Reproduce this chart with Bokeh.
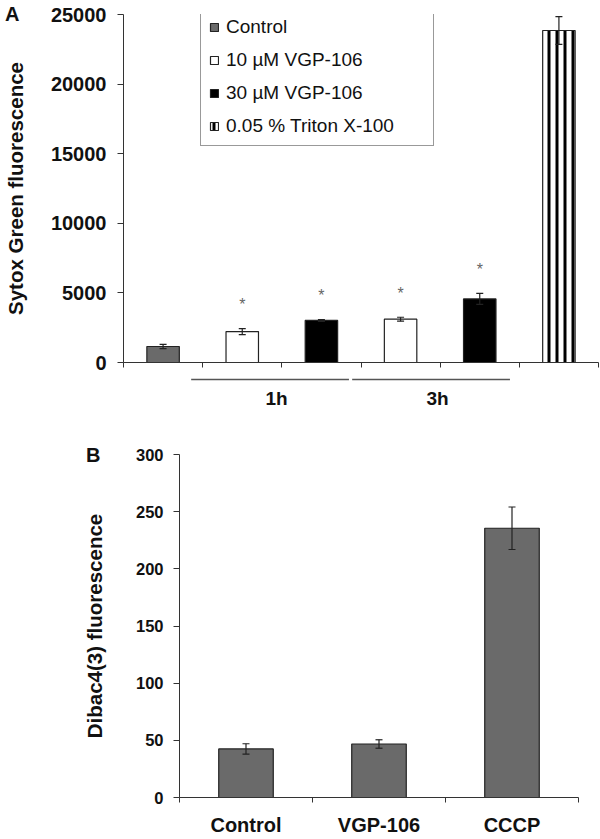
from bokeh.plotting import figure
from bokeh.models import (ColumnDataSource, Range1d, FixedTicker, Whisker, TeeHead,
                          Legend, LegendItem, Div)
from bokeh.core.properties import value
from bokeh.embed import file_html
from bokeh.resources import INLINE

# ---------------- data: panel A ----------------
a_bars = ["Control", "10 µM VGP-106 (1h)", "30 µM VGP-106 (1h)",
          "10 µM VGP-106 (3h)", "30 µM VGP-106 (3h)", "0.05 % Triton X-100"]
a_treatments = ["Control", "10 µM VGP-106", "30 µM VGP-106",
                "10 µM VGP-106", "30 µM VGP-106", "0.05 % Triton X-100"]
a_values = [1150, 2220, 3020, 3110, 4570, 23850]
a_errors = [150, 220, 70, 140, 400, 1000]
a_significant = [False, True, True, True, True, False]
a_groups = ["1h", "3h"]
a_group_first = [1, 3]
a_group_last = [2, 4]
a_y_ticks = [0, 5000, 10000, 15000, 20000, 25000]
a_y_label = "Sytox Green fluorescence"
legend_order = ["Control", "10 µM VGP-106", "30 µM VGP-106", "0.05 % Triton X-100"]

# ---------------- data: panel B ----------------
b_categories = ["Control", "VGP-106", "CCCP"]
b_values = [42.5, 46.8, 235.5]
b_errors = [4.5, 3.7, 18.6]
b_y_ticks = [0, 50, 100, 150, 200, 250, 300]
b_y_label = "Dibac4(3) fluorescence"

panel_letters = ["A", "B"]

# ---------------- styles ----------------
FONT = "Liberation Sans"
AXIS_COLOR = "#333333"
TEXT_COLOR = "#111111"
W = 600
A_LEFT, A_RIGHT = 115, 2
B_LEFT, B_RIGHT = 179, 22
BAR_W = 0.41
styles = {
    "Control": dict(fill_color="#6a6a6a"),
    "10 µM VGP-106": dict(fill_color="white"),
    "30 µM VGP-106": dict(fill_color="black"),
    "0.05 % Triton X-100": dict(fill_color="white", hatch_pattern="vertical_line",
                                hatch_color="black", hatch_weight=3, hatch_scale=8),
}


def base_style(p):
    p.outline_line_color = None
    p.grid.visible = False
    p.background_fill_color = "white"
    p.border_fill_color = "white"


def style_axes(p):
    for ax in (p.xaxis, p.yaxis):
        ax.axis_line_color = AXIS_COLOR
        ax.axis_line_width = 1
        ax.major_tick_line_color = AXIS_COLOR
        ax.minor_tick_line_color = AXIS_COLOR
        ax.major_label_text_font = FONT
        ax.major_label_text_font_style = "bold"
        ax.major_label_text_color = TEXT_COLOR
        ax.axis_label_text_font = FONT
        ax.axis_label_text_font_style = "bold"
        ax.axis_label_text_color = TEXT_COLOR


def whisker(src):
    head = dict(size=7, line_color="#222222", line_width=1.2)
    return Whisker(base="x", upper="upper", lower="lower", source=src, level="overlay",
                   line_color="#222222", line_width=1.2,
                   upper_head=TeeHead(**head), lower_head=TeeHead(**head))


def letter_div(text, left, top):
    css = {"position": "absolute", "left": f"{left}px", "top": f"{top}px",
           "font-family": f"'{FONT}'", "font-weight": "bold", "font-size": "20px",
           "line-height": "20px", "color": TEXT_COLOR, "margin": "0", "padding": "0"}
    html = (f"<span style=\"font-family:'{FONT}';font-weight:bold;font-size:20px;"
            f"line-height:20px;color:{TEXT_COLOR}\">{text}</span>")
    return Div(text=html, styles=css, margin=0)


# ================= Panel A =================
HA = 374
pa = figure(width=W, height=HA, x_range=Range1d(0, len(a_bars)), y_range=Range1d(0, 25000),
            output_backend="svg", toolbar_location=None,
            min_border_left=A_LEFT, min_border_right=A_RIGHT, min_border_top=14, min_border_bottom=12)
base_style(pa)
style_axes(pa)
pa.xaxis.ticker = FixedTicker(ticks=[], minor_ticks=list(range(len(a_bars) + 1)))
pa.xaxis.minor_tick_in = 0
pa.xaxis.minor_tick_out = 5
pa.xaxis.major_tick_in = 0
pa.xaxis.major_tick_out = 0
pa.yaxis.ticker = FixedTicker(ticks=a_y_ticks, minor_ticks=[])
pa.yaxis.major_tick_in = 0
pa.yaxis.major_tick_out = 6
pa.yaxis.major_label_standoff = 11
pa.yaxis.major_label_text_font_size = "20px"
pa.yaxis.axis_label = a_y_label
pa.yaxis.axis_label_text_font_size = "20.5px"
pa.yaxis.axis_label_standoff = 21

items = []
for t in legend_order:
    idx = [i for i, tt in enumerate(a_treatments) if tt == t]
    src = ColumnDataSource(dict(x=[i + 0.5 for i in idx], top=[a_values[i] for i in idx]))
    r = pa.vbar(x="x", top="top", bottom=0, width=BAR_W, source=src,
                line_color="#222222", line_width=1.2, **styles[t])
    items.append(LegendItem(label=t, renderers=[r]))

wa = ColumnDataSource(dict(x=[i + 0.5 for i in range(len(a_bars))],
                           upper=[v + e for v, e in zip(a_values, a_errors)],
                           lower=[v - e for v, e in zip(a_values, a_errors)]))
pa.add_layout(whisker(wa))

sig_idx = [i for i, s in enumerate(a_significant) if s]
pa.text(x=[i + 0.5 for i in sig_idx], y=[a_values[i] + a_errors[i] for i in sig_idx],
        text=["*"] * len(sig_idx), text_align="center", text_baseline="middle",
        y_offset=-24, text_font_size="16px", text_color="#666666", text_font=value(FONT))

legend = Legend(items=items, location=(77, 216), label_text_font=FONT, label_text_font_size="19px",
                label_text_color=TEXT_COLOR, glyph_width=10, glyph_height=10, label_standoff=7,
                spacing=11, padding=8, label_height=20, label_width=199, margin=0,
                border_line_color="#333333", border_line_width=1.5,
                background_fill_color="white", background_fill_alpha=1.0)
pa.add_layout(legend)

# ---------------- group labels under panel A ----------------
HG = 42
pg = figure(width=W, height=HG, x_range=pa.x_range, y_range=Range1d(HG, 0),
            output_backend="svg", toolbar_location=None,
            x_axis_location=None, y_axis_location=None,
            min_border_left=A_LEFT, min_border_right=A_RIGHT, min_border_top=0, min_border_bottom=0)
base_style(pg)
pg.segment(x0=[f - 0.06 for f in a_group_first], x1=[l + 1 - 0.1 for l in a_group_last],
           y0=5, y1=5, line_color="#555555", line_width=1.5)
pg.text(x=[(f + l + 1) / 2 for f, l in zip(a_group_first, a_group_last)], y=24, text=a_groups,
        text_align="center", text_baseline="middle", text_font=value(FONT),
        text_font_style="bold", text_font_size="19px", text_color=TEXT_COLOR)

# ================= Panel B =================
HB = 422
pb = figure(width=W, height=HB, x_range=Range1d(0, len(b_categories)), y_range=Range1d(0, 300),
            output_backend="svg", toolbar_location=None,
            min_border_left=B_LEFT, min_border_right=B_RIGHT, min_border_top=38, min_border_bottom=35)
base_style(pb)
style_axes(pb)
centers = [i + 0.5 for i in range(len(b_categories))]
pb.xaxis.ticker = FixedTicker(ticks=centers, minor_ticks=list(range(len(b_categories) + 1)))
pb.xaxis.major_label_overrides = {c: name for c, name in zip(centers, b_categories)}
pb.xaxis.major_tick_in = 0
pb.xaxis.major_tick_out = 0
pb.xaxis.minor_tick_in = 0
pb.xaxis.minor_tick_out = 5
pb.xaxis.major_label_standoff = 11
pb.xaxis.major_label_text_font_size = "20px"
pb.yaxis.ticker = FixedTicker(ticks=b_y_ticks, minor_ticks=[])
pb.yaxis.major_tick_in = 0
pb.yaxis.major_tick_out = 6
pb.yaxis.major_label_standoff = 10
pb.yaxis.major_label_text_font_size = "16.5px"
pb.yaxis.axis_label = b_y_label
pb.yaxis.axis_label_text_font_size = "20.5px"
pb.yaxis.axis_label_standoff = 27

srcB = ColumnDataSource(dict(x=centers, top=b_values,
                             upper=[v + e for v, e in zip(b_values, b_errors)],
                             lower=[v - e for v, e in zip(b_values, b_errors)]))
pb.vbar(x="x", top="top", bottom=0, width=BAR_W, source=srcB,
        fill_color="#6a6a6a", line_color="#222222", line_width=1.2)
pb.add_layout(whisker(srcB))

divA = letter_div(panel_letters[0], 5, 4)
divB = letter_div(panel_letters[1], 86, 445)

open("out.html", "w").write(file_html([pa, pg, pb, divA, divB], INLINE))
